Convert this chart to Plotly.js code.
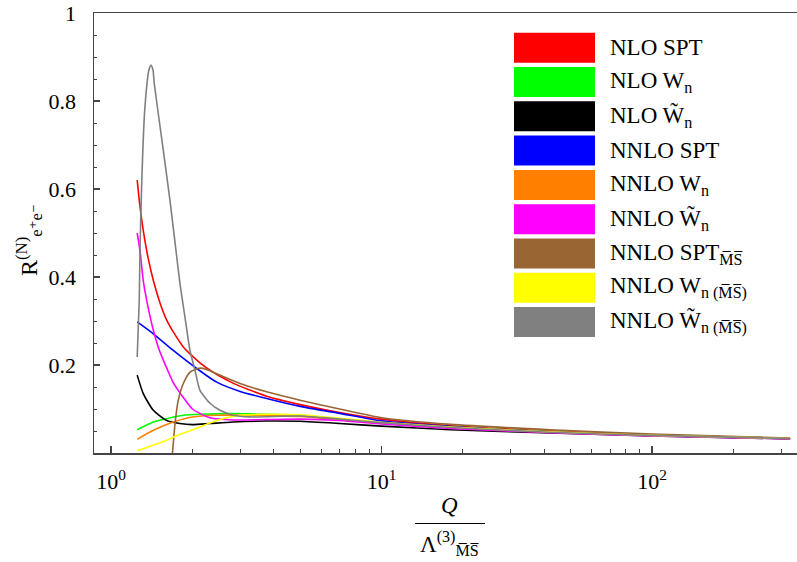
<!DOCTYPE html>
<html>
<head>
<meta charset="utf-8">
<script src="https://cdn.plot.ly/plotly-3.0.1.min.js"></script>
<style>html,body{margin:0;padding:0;background:#fff;}#chart{width:797px;height:562px;}</style>
</head>
<body>
<div id="chart"></div>
<script>
// ---- data ----
const seriesNames = [
  "NLO SPT",
  "NLO W<sub>n</sub>",
  "NLO W\u0303<sub>n</sub>",
  "NNLO SPT",
  "NNLO W<sub>n</sub>",
  "NNLO W\u0303<sub>n</sub>",
  "NNLO SPT<sub>M\u0305S\u0305</sub>",
  "NNLO W<sub>n (M\u0305S\u0305)</sub>",
  "NNLO W\u0303<sub>n (M\u0305S\u0305)</sub>"
];
const seriesColors = ["#ff0000","#00ff00","#000000","#0000ff","#ff8000","#ff00ff","#996633","#ffff00","#808080"];

const xNloSpt = [1.25,1.28,1.316,1.37,1.434,1.52,1.607,1.72,1.851,2.0,2.133,2.3,2.5,2.8,3.26,3.76,5,7,10,18,42,100,324];
const yNloSpt = [0.62,0.56,0.506,0.445,0.392,0.34,0.302,0.27,0.241,0.22,0.205,0.19,0.176,0.16,0.143,0.129,0.11,0.092,0.077,0.062,0.05,0.041,0.033];

const xNloW = [1.25,1.434,1.607,1.851,2.133,2.825,3.76,5,7,10,18,42,100,324];
const yNloW = [0.053,0.0705,0.078,0.0857,0.088,0.0895,0.088,0.085,0.077,0.069,0.059,0.048,0.04,0.033];

const xNloWt = [1.25,1.316,1.434,1.607,1.799,2.0,2.323,2.825,3.76,5,7,10,18,42,100,324];
const yNloWt = [0.177,0.135,0.097,0.074,0.067,0.0645,0.067,0.0705,0.0727,0.072,0.067,0.061,0.053,0.0455,0.039,0.032];

const xNnloSpt = [1.25,1.434,1.699,2.074,2.459,3.0,3.76,5,7,10,18,42,100,324];
const yNnloSpt = [0.298,0.271,0.233,0.192,0.161,0.14,0.124,0.106,0.09,0.073,0.06,0.048,0.04,0.033];

const xNnloW = [1.25,1.434,1.699,2.0,2.459,3.265,5,7,10,18,42,100,324];
const yNnloW = [0.031,0.0516,0.0705,0.082,0.0857,0.0857,0.083,0.076,0.068,0.058,0.047,0.04,0.033];

const xNnloWt = [1.25,1.28,1.316,1.355,1.434,1.5,1.561,1.607,1.699,1.851,2.0,2.133,2.323,2.825,3.76,5,7,10,18,42,100,324];
const yNnloWt = [0.5,0.46,0.392,0.347,0.279,0.238,0.211,0.193,0.16,0.126,0.1,0.09,0.08,0.075,0.076,0.077,0.074,0.066,0.056,0.046,0.039,0.032];

const xNnloSptMs = [1.67,1.691,1.725,1.773,1.851,1.959,2.05,2.16,2.3,2.459,3.0,3.76,5,7,10,18,42,100,324];
const yNnloSptMs = [-0.03,0.006,0.067,0.12,0.158,0.184,0.19,0.193,0.188,0.18,0.158,0.139,0.12,0.1,0.08,0.065,0.053,0.043,0.034];

const xNnloWMs = [1.25,1.607,1.699,2.133,2.459,3.0,3.764,5,7,10,18,42,100,324];
const yNnloWMs = [0.005,0.029,0.036,0.059,0.074,0.0857,0.088,0.087,0.079,0.07,0.059,0.048,0.04,0.033];

const xNnloWtMs = [1.25,1.272,1.28,1.299,1.328,1.359,1.38,1.406,1.43,1.445,1.561,1.652,1.739,1.799,1.877,1.959,2.044,2.133,2.323,2.529,2.825,3.265,5,7,10,18,42,100,324];
const yNnloWtMs = [0.218,0.347,0.46,0.613,0.764,0.84,0.87,0.881,0.87,0.84,0.688,0.574,0.46,0.385,0.309,0.233,0.188,0.1425,0.113,0.097,0.086,0.082,0.084,0.077,0.069,0.058,0.047,0.04,0.033];

const seriesX = [xNloSpt,xNloW,xNloWt,xNnloSpt,xNnloW,xNnloWt,xNnloSptMs,xNnloWMs,xNnloWtMs];
const seriesY = [yNloSpt,yNloW,yNloWt,yNnloSpt,yNnloW,yNnloWt,yNnloSptMs,yNnloWMs,yNnloWtMs];

const xTickVals = [1,10,100];
const xTickText = ["10<sup>0</sup>","10<sup>1</sup>","10<sup>2</sup>"];
const xMinorVals = [2,3,4,5,6,7,8,9,20,30,40,50,60,70,80,90,200,300];
const yTickVals = [0.2,0.4,0.6,0.8,1];
const yTickText = ["0.2","0.4","0.6","0.8","1"];
const yMinorVals = [0.05,0.1,0.15,0.25,0.3,0.35,0.45,0.5,0.55,0.65,0.7,0.75,0.85,0.9,0.95];

// ---- geometry helpers (pixel -> paper) ----
const W = 797, H = 562, L = 94, R = 0, T = 13, B = 109;
const pw = W - L - R, ph = H - T - B;
const px = v => (v - L) / pw;
const py = v => (H - B - v) / ph;

const FONT = "'Liberation Serif', 'DejaVu Serif', serif";

const traces = seriesNames.map((n, i) => ({
  type: "scatter", mode: "lines", name: n,
  x: seriesX[i], y: seriesY[i],
  line: {color: seriesColors[i], width: 1.6, shape: "spline", smoothing: 0.6},
  hoverinfo: "skip"
}));

const shapes = [];
const annotations = [];
seriesNames.forEach((n, i) => {
  const top = 32.7 + i * 34.3;
  shapes.push({type: "rect", xref: "paper", yref: "paper",
    x0: px(514), x1: px(595), y0: py(top + 30), y1: py(top),
    fillcolor: seriesColors[i], line: {width: 0}});
  annotations.push({xref: "paper", yref: "paper", x: px(608), y: py(top + 15),
    xanchor: "left", yanchor: "middle", showarrow: false, text: n,
    font: {family: FONT, size: 23, color: "#000"}});
});

// x-axis title: fraction Q / Λ^(3)_MS
shapes.push({type: "line", xref: "paper", yref: "paper",
  x0: px(415), x1: px(485), y0: py(523.5), y1: py(523.5),
  line: {color: "#000", width: 1.2}});
annotations.push({xref: "paper", yref: "paper", x: px(449), y: py(505),
  xanchor: "center", yanchor: "middle", showarrow: false,
  text: "<i>Q</i>", font: {family: FONT, size: 23, color: "#000"}});
annotations.push({xref: "paper", yref: "paper", x: px(449), y: py(543),
  xanchor: "center", yanchor: "middle", showarrow: false,
  text: "\u039B<sup>(3)</sup><sub>M\u0305S\u0305</sub>", font: {family: FONT, size: 23, color: "#000"}});

// y-axis title
annotations.push({xref: "paper", yref: "paper", x: px(29), y: py(240),
  xanchor: "center", yanchor: "middle", showarrow: false, textangle: -90,
  text: "R<sup>(N)</sup><sub>e\u207Ae\u207B</sub>", font: {family: FONT, size: 24, color: "#000"}});

const axisColor = "#444";
const layout = {
  width: W, height: H,
  margin: {l: L, r: R, t: T, b: B, pad: 0},
  paper_bgcolor: "#fff", plot_bgcolor: "#fff",
  showlegend: false,
  font: {family: FONT, size: 22, color: "#000"},
  xaxis: {
    type: "log", range: [-0.0628, 2.536],
    showline: true, mirror: true, linecolor: axisColor, linewidth: 1.5,
    showgrid: false, zeroline: false,
    ticks: "inside", ticklen: 7, tickwidth: 1.2, tickcolor: axisColor,
    tickmode: "array", tickvals: xTickVals, ticktext: xTickText,
    tickfont: {family: FONT, size: 22, color: "#000"},
    ticklabelstandoff: 8,
    minor: {tickmode: "array", tickvals: xMinorVals, ticks: "inside", ticklen: 4, tickwidth: 1, tickcolor: axisColor, showgrid: false}
  },
  yaxis: {
    range: [0, 1],
    showline: true, linecolor: axisColor, linewidth: 1.5,
    showgrid: false, zeroline: false,
    ticks: "inside", ticklen: 6, tickwidth: 1.2, tickcolor: axisColor,
    tickmode: "array", tickvals: yTickVals, ticktext: yTickText,
    tickfont: {family: FONT, size: 22, color: "#000"},
    ticklabelstandoff: 12,
    minor: {tickmode: "array", tickvals: yMinorVals, ticks: "inside", ticklen: 3, tickwidth: 1, tickcolor: axisColor, showgrid: false}
  },
  shapes: shapes,
  annotations: annotations
};

Plotly.newPlot("chart", traces, layout, {staticPlot: true, displayModeBar: false});
</script>
</body>
</html>
